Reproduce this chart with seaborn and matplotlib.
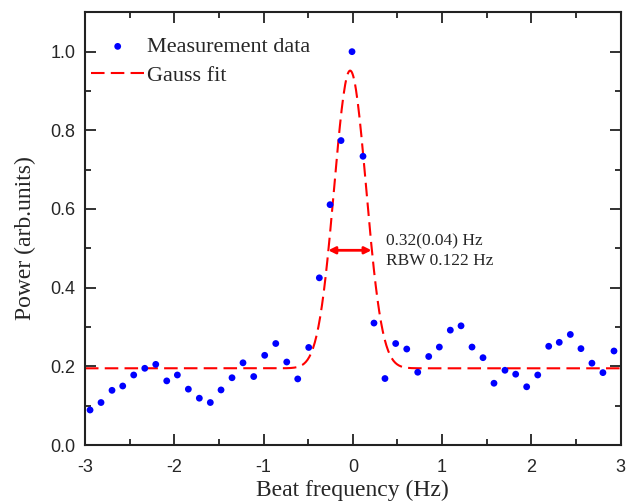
import numpy as np
import matplotlib
matplotlib.use("Agg")
import matplotlib.pyplot as plt
import seaborn as sns
import pandas as pd

# measured beat-note spectrum (points spaced by the RBW, ~0.122 Hz)
freq = [-2.943, -2.820, -2.697, -2.577, -2.454, -2.330, -2.207, -2.084, -1.965,
        -1.842, -1.719, -1.596, -1.476, -1.353, -1.230, -1.110, -0.987, -0.863,
        -0.740, -0.617, -0.494, -0.375, -0.255, -0.132, -0.009, 0.114, 0.237,
        0.360, 0.480, 0.604, 0.727, 0.850, 0.969, 1.092, 1.212, 1.335, 1.458,
        1.581, 1.704, 1.824, 1.947, 2.071, 2.194, 2.312, 2.436, 2.555, 2.678,
        2.801, 2.925]
power = [0.089, 0.108, 0.139, 0.150, 0.178, 0.195, 0.205, 0.163, 0.178,
         0.142, 0.119, 0.108, 0.140, 0.171, 0.209, 0.174, 0.228, 0.258,
         0.211, 0.168, 0.248, 0.425, 0.611, 0.774, 1.000, 0.734, 0.310,
         0.169, 0.258, 0.244, 0.185, 0.225, 0.249, 0.292, 0.303, 0.249,
         0.222, 0.157, 0.190, 0.180, 0.148, 0.178, 0.251, 0.261, 0.281,
         0.245, 0.208, 0.184, 0.239]

# gauss fit parameters
fit_base = 0.195
fit_amp = 0.757
fit_center = -0.03
fit_sigma = 0.179

# FWHM arrow
arrow_x = [-0.275, 0.21]
arrow_y = 0.495

sns.set_style("ticks")
plt.rcParams['font.family'] = ['Liberation Sans', 'DejaVu Sans']

fig = plt.figure(figsize=(6.34, 5.03), dpi=100)
ax = fig.add_axes([0.134, 0.1153, 0.845, 0.8602])

fx = np.linspace(-3, 3, 600)
fy = fit_base + fit_amp * np.exp(-(fx - fit_center) ** 2 / (2 * fit_sigma ** 2))
df_fit = pd.DataFrame({"x": fx, "y": fy})
df = pd.DataFrame({"x": freq, "y": power})

sns.lineplot(data=df_fit, x="x", y="y", ax=ax, color="#ff0000", lw=1.5,
             dashes=False, label="Gauss fit", zorder=2)
ax.lines[-1].set_dashes([6.5, 3])
sns.scatterplot(data=df, x="x", y="y", ax=ax, color="#0000ff", s=24,
                edgecolor="none", label="Measurement data", zorder=3)

ax.annotate("", xy=(arrow_x[0], arrow_y), xytext=(arrow_x[1], arrow_y),
            arrowprops=dict(arrowstyle="<|-|>", color="#ff0000", lw=2,
                            mutation_scale=10, shrinkA=0, shrinkB=0))
ax.text(0.37, 0.518, "0.32(0.04) Hz", fontsize=12.5, family="Liberation Serif",
        va="center", ha="left")
ax.text(0.37, 0.468, "RBW 0.122 Hz", fontsize=12.5, family="Liberation Serif",
        va="center", ha="left")

ax.set_xlim(-3, 3)
ax.set_ylim(0, 1.1)
ax.set_xticks([-3, -2, -1, 0, 1, 2, 3])
ax.set_xticks(np.arange(-2.5, 3, 1.0), minor=True)
ax.set_yticks([0.0, 0.2, 0.4, 0.6, 0.8, 1.0])
ax.set_yticks([0.1, 0.3, 0.5, 0.7, 0.9], minor=True)
ax.set_xticklabels(["-3", "-2", "-1", "0", "1", "2", "3"])
ax.set_yticklabels(["0.0", "0.2", "0.4", "0.6", "0.8", "1.0"])
ax.tick_params(which="both", direction="in", top=True, right=True,
               width=1.3, color="#222222", labelsize=13)
ax.tick_params(which="major", length=8)
ax.tick_params(which="minor", length=4)
ax.tick_params(axis="x", which="major", pad=10)
ax.tick_params(axis="y", which="major", pad=7)
for sp in ax.spines.values():
    sp.set_visible(True)
    sp.set_linewidth(1.5)
    sp.set_color("#222222")

ax.set_xlabel("Beat frequency (Hz)", fontsize=17, family="Liberation Serif")
ax.set_ylabel("Power (arb.units)", fontsize=17, family="Liberation Serif")
ax.yaxis.set_label_coords(-0.091, 0.479)
ax.xaxis.set_label_coords(0.5, -0.08)

h, l = ax.get_legend_handles_labels()
order = [l.index("Measurement data"), l.index("Gauss fit")]
ax.legend([h[i] for i in order], [l[i] for i in order], loc="upper left",
          bbox_to_anchor=(-0.026, 0.99), frameon=False, handlelength=2.4,
          handletextpad=0.1, labelspacing=0.37,
          prop={"family": "Liberation Serif", "size": 16})

fig.savefig("out.png", dpi=100)
